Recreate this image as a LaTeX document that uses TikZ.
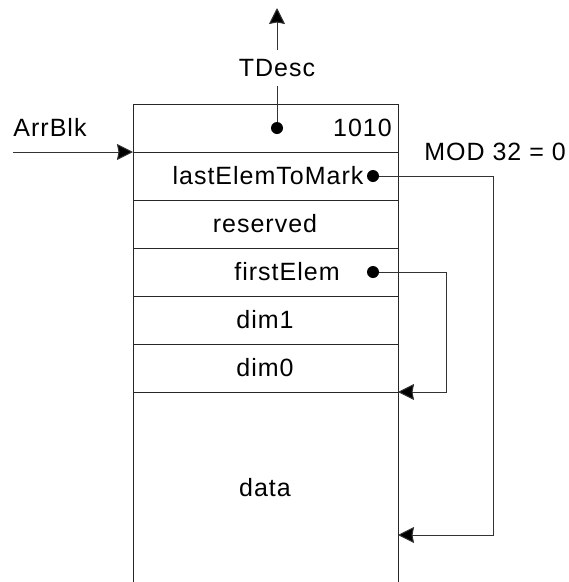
\documentclass[tikz,border=0pt]{standalone}
\usepackage{fontspec}
\setmainfont{Liberation Sans}[LetterSpace=4]
\usetikzlibrary{arrows.meta}

\tikzset{
  frame/.style={draw=black!85, line width=1pt},
  wire/.style={draw=black!80, line width=1pt},
  arr/.style={wire, -{Stealth[length=16pt,width=16pt,inset=1.5pt,fill=black]}},
  label/.style={inner sep=0pt, text=black},
  dot/.style={circle, fill=black, inner sep=0pt, minimum size=12pt},
}

\begin{document}
\begin{tikzpicture}[x=1pt, y=-1pt, font=\fontsize{25}{30}\selectfont]
\useasboundingbox (0,0) rectangle (569,582);

% record frame: open at the bottom
\draw[frame] (133,582) -- (133,104) -- (398,104) -- (398,582);
\foreach \yy in {152,200,248,296,344,392}
  \draw[frame] (133,\yy) -- (398,\yy);

% field labels
\node[label, anchor=east] (tag)   at (392,128) {1010};
\node[label] (last)     at (268,176) {lastElemToMark};
\node[label] (reserved) at (265,224) {reserved};
\node[label] (first)    at (287,272) {firstElem};
\node[label] (dimA)     at (265,320) {dim1};
\node[label] (dimB)     at (265,368) {dim0};
\node[label] (data)     at (265,488) {data};

% outside labels
\node[label] (arrblk) at (50,127) {ArrBlk};
\node[label] (mod)    at (495,152) {MOD 32 = 0};
\node[label, inner ysep=9pt] (tdesc) at (277,68) {TDesc};

% pointer origins
\node[dot] (p0) at (277,128) {};
\node[dot] (p1) at (373,176) {};
\node[dot] (p2) at (373,272) {};

% pointer targets
\coordinate (top)    at (277,8);
\coordinate (inS)    at (13,152);
\coordinate (inE)    at (133,152);
\coordinate (dataIn) at (398,535);
\coordinate (dimEnd) at (398,392);

% connectors
\draw[wire] (p0) -- (tdesc);
\draw[arr] (tdesc) -- (top);
\draw[arr] (inS) -- (inE);
\draw[arr] (p1) -- ++(120,0) |- (dataIn);
\draw[arr] (p2) -- ++(73,0) |- (dimEnd);
\end{tikzpicture}
\end{document}
